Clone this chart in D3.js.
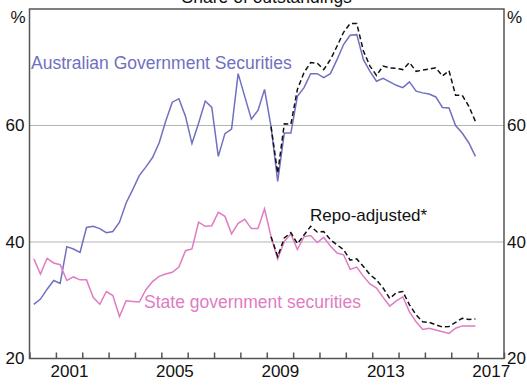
<!DOCTYPE html>
<html>
<head>
<meta charset="utf-8">
<script src="https://cdn.jsdelivr.net/npm/d3@7"></script>
<style>
  body { margin: 0; background: #fff; }
  text { font-family: Arial, "Liberation Sans", sans-serif; }
</style>
</head>
<body>
<div id="chart"></div>
<script>
// quarterly observations, Mar 2000 .. Dec 2016
const startYear = 2000;
const agsShare = [29.3, 30.2, 31.9, 33.4, 32.9, 39.2, 38.8, 38.2, 42.5, 42.7, 42.3, 41.6,
  41.8, 43.4, 46.7, 49.0, 51.4, 52.9, 54.5, 57.0, 60.7, 64.0, 64.6, 61.6,
  56.9, 60.4, 64.2, 63.1, 54.7, 58.6, 59.4, 68.9, 65.0, 61.1, 62.6, 66.2,
  59.8, 50.4, 58.7, 58.7, 65.0, 66.5, 68.9, 68.9, 68.2, 68.9, 71.3, 73.9,
  75.5, 75.6, 71.3, 69.3, 67.6, 68.1, 67.5, 66.9, 66.5, 67.5, 65.9, 65.6,
  65.4, 64.9, 63.1, 63.0, 60.0, 58.7, 57.0, 54.7];
const stateShare = [37.1, 34.5, 37.2, 36.4, 36.1, 33.4, 34.0, 33.5, 33.5, 30.5, 29.3, 31.5,
  30.8, 27.2, 29.9, 29.8, 29.7, 31.8, 33.2, 34.1, 34.5, 34.8, 35.7, 38.5,
  38.8, 43.4, 42.7, 42.8, 45.1, 44.4, 41.4, 43.2, 43.9, 42.3, 42.3, 45.7,
  40.9, 37.1, 40.1, 41.4, 38.7, 40.9, 41.1, 39.9, 40.8, 39.3, 38.1, 37.8,
  35.3, 35.7, 34.1, 32.8, 32.1, 30.5, 29.0, 29.9, 30.6, 28.0, 26.3, 25.0,
  25.2, 24.9, 24.6, 24.3, 25.2, 25.6, 25.6, 25.6];
// repo-adjusted series begin at Dec 2008 (index 36)
const repoStart = 36;
const agsRepo = [59.8, 51.8, 60.3, 60.2, 66.2, 69.1, 70.8, 70.7, 69.6, 71.3, 73.6, 76.0,
  77.5, 77.5, 72.8, 70.2, 68.6, 70.2, 69.9, 69.8, 69.6, 70.8, 69.3, 69.5,
  69.7, 69.9, 68.5, 69.4, 65.2, 65.2, 63.3, 60.7];
const stateRepo = [40.9, 37.5, 40.7, 41.6, 39.7, 41.2, 42.7, 41.7, 41.8, 40.4, 39.5, 38.7,
  36.9, 37.1, 35.8, 34.4, 33.5, 32.1, 30.3, 31.3, 31.5, 29.2, 27.5, 26.3,
  26.2, 25.8, 25.4, 25.5, 26.2, 26.9, 26.7, 26.8];
const yearLabels = [2001, 2005, 2009, 2013, 2017];
const yTicks = [20, 40, 60];
const gridValues = [40, 60];

const width = 527, height = 385;
const margin = { top: 9, right: 23, bottom: 27, left: 29.5 };
const purple = "#7070c0";
const pink = "#e07cc2";
const axisColor = "#555";
const labelSize = 17.5;

const dateOf = i => new Date(startYear, 2 + 3 * i, 1);

const svg = d3.select("#chart").append("svg")
  .attr("width", width).attr("height", height);

const x = d3.scaleTime()
  .domain([new Date(2000, 0, 1), new Date(2018, 0, 1)])
  .range([margin.left, width - margin.right]);
const y = d3.scaleLinear()
  .domain([20, 80])
  .range([height - margin.bottom + 0.5, margin.top]);

// title, clipped at the top of the frame (as in the source)
svg.append("text")
  .attr("x", (margin.left + width - margin.right) / 2)
  .attr("y", 3)
  .attr("text-anchor", "middle")
  .attr("font-size", labelSize)
  .attr("fill", "#111")
  .text("Share of outstandings");

// gridlines
svg.selectAll("line.grid")
  .data(gridValues)
  .join("line")
  .attr("class", "grid")
  .attr("x1", margin.left).attr("x2", width - margin.right)
  .attr("y1", d => y(d)).attr("y2", d => y(d))
  .attr("stroke", "#b4b4b4").attr("stroke-width", 1.2);

// lines
const line = d3.line()
  .x(d => x(d.date))
  .y(d => y(d.value));

const toPoints = (arr, offset) => arr.map((v, i) => ({ date: dateOf(i + offset), value: v }));

svg.append("path").datum(toPoints(agsShare, 0))
  .attr("fill", "none").attr("stroke", purple).attr("stroke-width", 1.5).attr("d", line);
svg.append("path").datum(toPoints(stateShare, 0))
  .attr("fill", "none").attr("stroke", pink).attr("stroke-width", 1.5).attr("d", line);
[agsRepo, stateRepo].forEach(arr => {
  svg.append("path").datum(toPoints(arr, repoStart))
    .attr("fill", "none").attr("stroke", "#111").attr("stroke-width", 1.5)
    .attr("stroke-dasharray", "5,3").attr("d", line);
});

// frame
svg.append("rect")
  .attr("x", margin.left).attr("y", margin.top)
  .attr("width", width - margin.right - margin.left)
  .attr("height", y(20) - margin.top)
  .attr("fill", "none").attr("stroke", axisColor).attr("stroke-width", 1.5);

// x axis: year ticks pointing inward, labels centred mid-year
const xTicksG = svg.append("g")
  .attr("transform", `translate(0,${y(20)})`)
  .call(d3.axisBottom(x).ticks(d3.timeYear.every(1)).tickSizeInner(-6).tickSizeOuter(0).tickFormat(""));
xTicksG.select(".domain").remove();
xTicksG.selectAll(".tick line").attr("stroke", axisColor).attr("stroke-width", 1.5);

const xLabelsG = svg.append("g")
  .attr("transform", `translate(0,${y(20)})`)
  .call(d3.axisBottom(x).tickValues(yearLabels.map(yr => new Date(yr, 6, 1)))
    .tickSize(0).tickPadding(6).tickFormat(d3.timeFormat("%Y")));
xLabelsG.select(".domain").remove();
xLabelsG.selectAll("text").attr("font-size", 17).attr("fill", "#111").attr("font-family", null);

// y axes both sides
const yLeft = svg.append("g")
  .attr("transform", `translate(${margin.left},0)`)
  .call(d3.axisLeft(y).tickValues(yTicks).tickSize(0).tickPadding(5));
const yRight = svg.append("g")
  .attr("transform", `translate(${width - margin.right},0)`)
  .call(d3.axisRight(y).tickValues(yTicks).tickSize(0).tickPadding(3));
[yLeft, yRight].forEach(g => {
  g.select(".domain").remove();
  g.selectAll("text").attr("font-size", 17).attr("fill", "#111").attr("font-family", null);
});

svg.append("text").attr("x", margin.left - 4).attr("y", 23)
  .attr("text-anchor", "end").attr("font-size", 17).attr("fill", "#111").text("%");
svg.append("text").attr("x", width - margin.right + 3).attr("y", 23)
  .attr("font-size", 17).attr("fill", "#111").text("%");

// series labels
svg.append("text").attr("x", 31).attr("y", 69)
  .attr("font-size", labelSize).attr("fill", purple).text("Australian Government Securities");
svg.append("text").attr("x", 144).attr("y", 308)
  .attr("font-size", labelSize).attr("fill", pink).text("State government securities");
svg.append("text").attr("x", 310).attr("y", 221)
  .attr("font-size", 17).attr("fill", "#111").text("Repo-adjusted*");
</script>
</body>
</html>
